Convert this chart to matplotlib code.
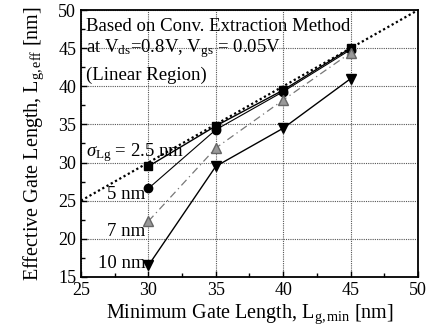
import matplotlib
matplotlib.use("Agg")
import matplotlib.pyplot as plt

plt.rcParams['font.family'] = ['Liberation Serif', 'DejaVu Serif']
plt.rcParams['mathtext.fontset'] = 'custom'
plt.rcParams['mathtext.rm'] = 'Liberation Serif'
plt.rcParams['mathtext.it'] = 'Liberation Serif:italic'

x_min_len = [30, 35, 40, 45]
sig_2p5 = [29.5, 34.8, 39.5, 45.0]
sig_5 = [26.6, 34.3, 39.3, 44.8]
sig_7 = [22.3, 31.9, 38.2, 44.4]
sig_10 = [16.5, 29.5, 34.5, 41.0]
ideal_x = [25, 50]
ideal_y = [25, 50]

fig = plt.figure(figsize=(4.32, 3.25), dpi=100)
ax = fig.add_axes([0.1875, 0.148, 0.780, 0.821])

ax.plot(ideal_x, ideal_y, color='black', linestyle=(0, (1, 1.2)), linewidth=1.6, zorder=2)
ax.plot(x_min_len, sig_2p5, color='black', linestyle='-', linewidth=1.0, marker='s', markersize=6, zorder=3)
ax.plot(x_min_len, sig_5, color='black', linestyle='-', linewidth=0.8, marker='o', markersize=6, zorder=3)
ax.plot(x_min_len, sig_7, color='#777777', linestyle=(0, (6, 3, 1, 3)), linewidth=0.9,
        marker='^', markersize=7, markerfacecolor='#999999', markeredgecolor='#666666', zorder=3)
ax.plot(x_min_len, sig_10, color='black', linestyle='-', linewidth=1.0, marker='v', markersize=7, zorder=3)

ax.set_xlim(25, 50)
ax.set_ylim(15, 50)
ax.set_xticks([25, 30, 35, 40, 45, 50])
ax.set_yticks([15, 20, 25, 30, 35, 40, 45, 50])
ax.set_xticks([27.5, 32.5, 37.5, 42.5, 47.5], minor=True)
ax.set_yticks([17.5, 22.5, 27.5, 32.5, 37.5, 42.5, 47.5], minor=True)
ax.tick_params(which='both', direction='in', labelsize=13, width=1)
ax.tick_params(which='major', length=4)
ax.tick_params(which='minor', length=3)
ax.grid(True, which='major', color='#555555', linestyle=(0, (1, 1)), linewidth=0.8)
for s in ax.spines.values():
    s.set_linewidth(1.3)

ax.set_xlabel('Minimum Gate Length, L$_{\\mathrm{g,min}}$ [nm]', fontsize=14.5, labelpad=3)
ax.set_ylabel('Effective Gate Length, L$_{\\mathrm{g,eff}}$ [nm]', fontsize=14.5, labelpad=9)

fs = 13.5
ax.text(25.4, 47.8, 'Based on Conv. Extraction Method', fontsize=fs, va='center')
ax.text(25.4, 44.9, 'at V$_{\\mathrm{ds}}$=0.8V, V$_{\\mathrm{gs}}$ = 0.05V', fontsize=fs, va='center')
ax.text(25.4, 41.5, '(Linear Region)', fontsize=fs, va='center')
ax.text(25.4, 31.3, '$\\sigma_{\\mathrm{Lg}}$ = 2.5 nm', fontsize=fs, va='center')
ax.text(29.8, 25.8, '5 nm', fontsize=fs, va='center', ha='right')
ax.text(29.8, 21.0, '7 nm', fontsize=fs, va='center', ha='right')
ax.text(29.8, 16.8, '10 nm', fontsize=fs, va='center', ha='right')

fig.savefig('out.png', dpi=100)
